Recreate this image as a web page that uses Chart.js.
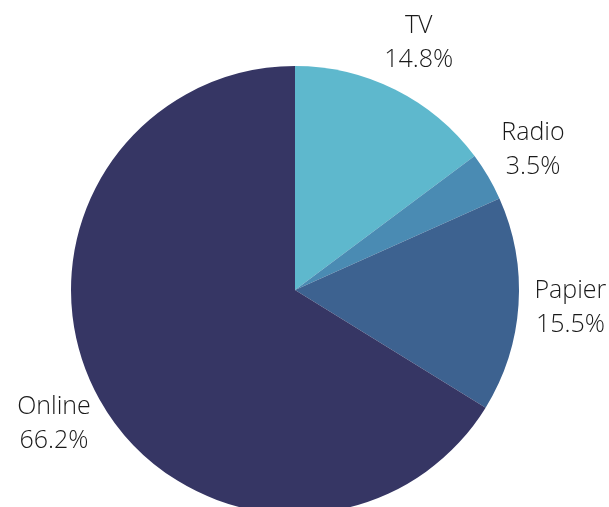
<!DOCTYPE html>
<html>
<head>
<meta charset="utf-8">
<script src="https://cdn.jsdelivr.net/npm/chart.js@4/dist/chart.umd.min.js"></script>
<style>
  html, body { margin: 0; padding: 0; background: #fff; overflow: hidden; }
  #wrap { width: 609px; height: 560px; position: relative; }
</style>
</head>
<body>
<div id="wrap"><canvas id="myChart"></canvas></div>
<script>
// categorias e valores (%)
var labels = ['TV', 'Radio', 'Papier', 'Online']
var valores = [14.8, 3.5, 15.5, 66.2]
var cores = ['#5eb8cd', '#4a8bb3', '#3d6290', '#363664']

// rotulos fora da pizza
var rotulosFora = {
  id: 'rotulosFora',
  afterDatasetsDraw: function (chart) {
    var ctx = chart.ctx
    var meta = chart.getDatasetMeta(0)
    ctx.save()
    ctx.font = '300 25px "Open Sans", "DejaVu Sans", sans-serif'
    ctx.fillStyle = '#1a1a1a'
    ctx.textAlign = 'center'
    ctx.textBaseline = 'alphabetic'
    meta.data.forEach(function (arc, i) {
      var meio = (arc.startAngle + arc.endAngle) / 2
      var r = arc.outerRadius + 52
      var x = arc.x + Math.cos(meio) * r
      var y = arc.y + Math.sin(meio) * r
      ctx.fillText(labels[i], x, y - 10)
      ctx.fillText(valores[i].toFixed(1) + '%', x, y + 24)
    })
    ctx.restore()
  }
}

const config = {
  type: 'pie',
  data: {
    labels: labels,
    datasets: [{
      data: valores,
      backgroundColor: cores,
      borderWidth: 0
    }]
  },
  options: {
    responsive: true,
    maintainAspectRatio: false,
    animation: false,
    layout: { padding: { left: 71, right: 90, top: 66, bottom: 46 } },
    plugins: {
      legend: { display: false },
      tooltip: { enabled: false }
    }
  },
  plugins: [rotulosFora]
}

var myChart = new Chart(document.getElementById('myChart'), config)
</script>
</body>
</html>
